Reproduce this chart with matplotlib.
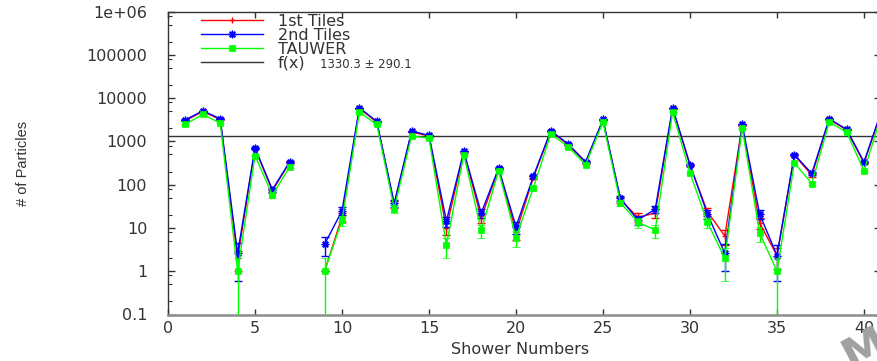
import numpy as np
import matplotlib
matplotlib.use("Agg")
import matplotlib.pyplot as plt
from matplotlib.lines import Line2D
from matplotlib.ticker import FixedLocator, NullFormatter

# ---------------- data ----------------
shower = [1, 2, 3, 4, 5, 6, 7, 8, 9, 10, 11, 12, 13, 14, 15, 16, 17, 18, 19, 20,
          21, 22, 23, 24, 25, 26, 27, 28, 29, 30, 31, 32, 33, 34, 35, 36, 37, 38, 39, 40, 41]

tiles1 = [3000, 4900, 3200, 2.0, 680, 72, 330, np.nan, 1.0, 18, 5700, 2800, 35, 1650, 1330,
          9.8, 570, 17, 230, 8.0, 147, 1700, 840, 325, 3100, 45, 17.6, 22, 5700, 280,
          23.7, 6.5, 2350, 13, 2.3, 480, 165, 3200, 1850, 315, 4800]
tiles1_err = [55, 70, 57, 1.0, 26, 8.5, 18, np.nan, 0.0, 4.2, 75, 53, 6, 41, 36,
              3.1, 24, 4.1, 15, 2.8, 12, 41, 29, 18, 56, 6.7, 4.2, 4.7, 75, 17,
              4.9, 2.5, 48, 3.6, 1.2, 22, 13, 57, 43, 18, 69]

tiles2 = [3150, 5080, 3325, 2.6, 701, 77, 341, np.nan, 4.2, 25, 5960, 2885, 37, 1725, 1374,
          14.5, 589, 22, 239, 10.7, 157, 1760, 867, 335, 3205, 48, 15.3, 27, 5960, 290,
          21, 2.6, 2460, 21, 2.3, 494, 181, 3325, 1888, 335, 5000]
tiles2_err = [56, 71, 58, 2.0, 26, 8.8, 18, np.nan, 1.9, 5.0, 77, 54, 6.1, 42, 37,
              3.8, 24, 4.7, 15, 3.3, 12.5, 42, 29, 18, 57, 6.9, 3.9, 5.2, 77, 17,
              4.6, 1.6, 50, 4.6, 1.7, 22, 13.5, 58, 43, 18, 71]

tauwer = [2500, 4180, 2640, 1.0, 469, 57, 262, np.nan, 1.0, 15, 4720, 2460, 28, 1325, 1190,
          4.0, 494, 8.8, 208, 6.0, 85, 1500, 740, 291, 2780, 38, 13.5, 9.0, 4720, 187,
          13.5, 2.0, 2020, 7.6, 1.0, 317, 106, 2780, 1636, 208, 4000]
tauwer_err = [50, 65, 51, 1.0, 22, 7.5, 16, np.nan, 1.0, 3.9, 69, 50, 5.3, 36, 34,
              2.0, 22, 3.0, 14, 2.4, 9.2, 39, 27, 17, 53, 6.2, 3.7, 3.0, 69, 14,
              3.7, 1.4, 45, 2.8, 1.0, 18, 10, 53, 40, 14, 63]

fit_value = 1330.3
fit_err = 290.1

series_labels = ["1st Tiles", "2nd Tiles", "TAUWER", "f(x)"]
x_ticks = [0, 5, 10, 15, 20, 25, 30, 35, 40]
y_ticks = [0.1, 1, 10, 100, 1000, 10000, 100000, 1000000]
y_tick_labels = ["0.1", "1", "10", "100", "1000", "10000", "100000", "1e+06"]

# ---------------- figure ----------------
W, H = 877, 361
fig = plt.figure(figsize=(W / 100, H / 100), dpi=100)
ax = fig.add_axes([168 / W, 1 - 314.5 / H, (881.4 - 168) / W, (314.5 - 11.5) / H])
ax.set_facecolor("white")
ax.set_yscale("log")

FONT = "DejaVu Sans"
TFS = 11.5
TXT = "#333333"

styles = [
    dict(color="#ff0000", marker="+", ms=4.5, mew=1.0, capsize=2.8),
    dict(color="#0000ff", marker=(8, 2, 0), ms=5.5, mew=1.0, capsize=3.0),
    dict(color="#00ff00", marker="s", ms=4.3, mew=0.5, capsize=3.0),
]
handles = []
for i, (vals, errs) in enumerate([(tiles1, tiles1_err), (tiles2, tiles2_err), (tauwer, tauwer_err)]):
    st = styles[i]
    ax.errorbar(shower, vals, yerr=errs, color=st["color"], lw=1.0,
                marker=st["marker"], ms=st["ms"], mew=st["mew"],
                mfc=st["color"], mec=st["color"],
                ecolor=st["color"], elinewidth=1.0, capsize=st["capsize"],
                capthick=1.0, zorder=3 + i)
    handles.append(Line2D([], [], color=st["color"], lw=1.0, marker=st["marker"],
                          ms=st["ms"], mew=st["mew"], mfc=st["color"], mec=st["color"]))

ax.axhline(fit_value, color=TXT, lw=1.0, zorder=2)
handles.append(Line2D([], [], color=TXT, lw=1.0))

ax.set_xlim(0, 41)
ax.set_ylim(0.1, 1e6)

ax.set_xticks(x_ticks)
ax.set_xticklabels([str(t) for t in x_ticks], fontsize=TFS, family=FONT, color=TXT)
ax.yaxis.set_major_locator(FixedLocator(y_ticks))
ax.set_yticklabels(y_tick_labels, fontsize=TFS, family=FONT, color=TXT)
minors = [m * 10.0 ** k for k in range(-1, 6) for m in (2, 5, 8)]
ax.yaxis.set_minor_locator(FixedLocator(minors))
ax.yaxis.set_minor_formatter(NullFormatter())
ax.xaxis.set_minor_locator(FixedLocator([]))

ax.tick_params(axis="x", which="major", direction="in", length=4, width=1,
               top=True, bottom=True, pad=5, color=TXT)
ax.tick_params(axis="y", which="major", direction="in", length=5, width=1,
               left=True, right=True, pad=15, color=TXT)
ax.tick_params(axis="y", which="minor", direction="in", length=3, width=0.8,
               left=True, right=True, color=TXT)

for s in ["top", "left", "right"]:
    ax.spines[s].set_color(TXT)
    ax.spines[s].set_linewidth(1.0)
ax.spines["bottom"].set_color("#8c8c8c")
ax.spines["bottom"].set_linewidth(1.8)

leg = ax.legend(handles, series_labels, loc="upper left",
                bbox_to_anchor=(0.03, 1.03), frameon=False,
                prop={"family": FONT, "size": TFS}, handlelength=3.9,
                handletextpad=0.95, labelspacing=-0.06, borderpad=0.2)
for t in leg.get_texts():
    t.set_color(TXT)

fig.text(320 / W, 1 - 64 / H, f"{fit_value} \u00b1 {fit_err}", fontsize=8.5,
         family=FONT, color=TXT, va="center", ha="left")

fig.text(520 / W, 1 - 349 / H, "Shower Numbers", fontsize=TFS, family=FONT,
         color=TXT, ha="center", va="center")
fig.text(23 / W, 1 - 163 / H, "# of Particles", fontsize=10.5,
         family=["Liberation Sans Narrow", "Liberation Sans", "DejaVu Sans"], color=TXT,
         rotation=90, ha="center", va="center")

# watermark fragment
fig.text(866 / W, 1 - 350 / H, "M", fontsize=32, weight="bold", color="#a0a0a0",
         rotation=28, ha="center", va="center", zorder=10, clip_on=True)

fig.savefig("out.png", dpi=100, facecolor="white")
